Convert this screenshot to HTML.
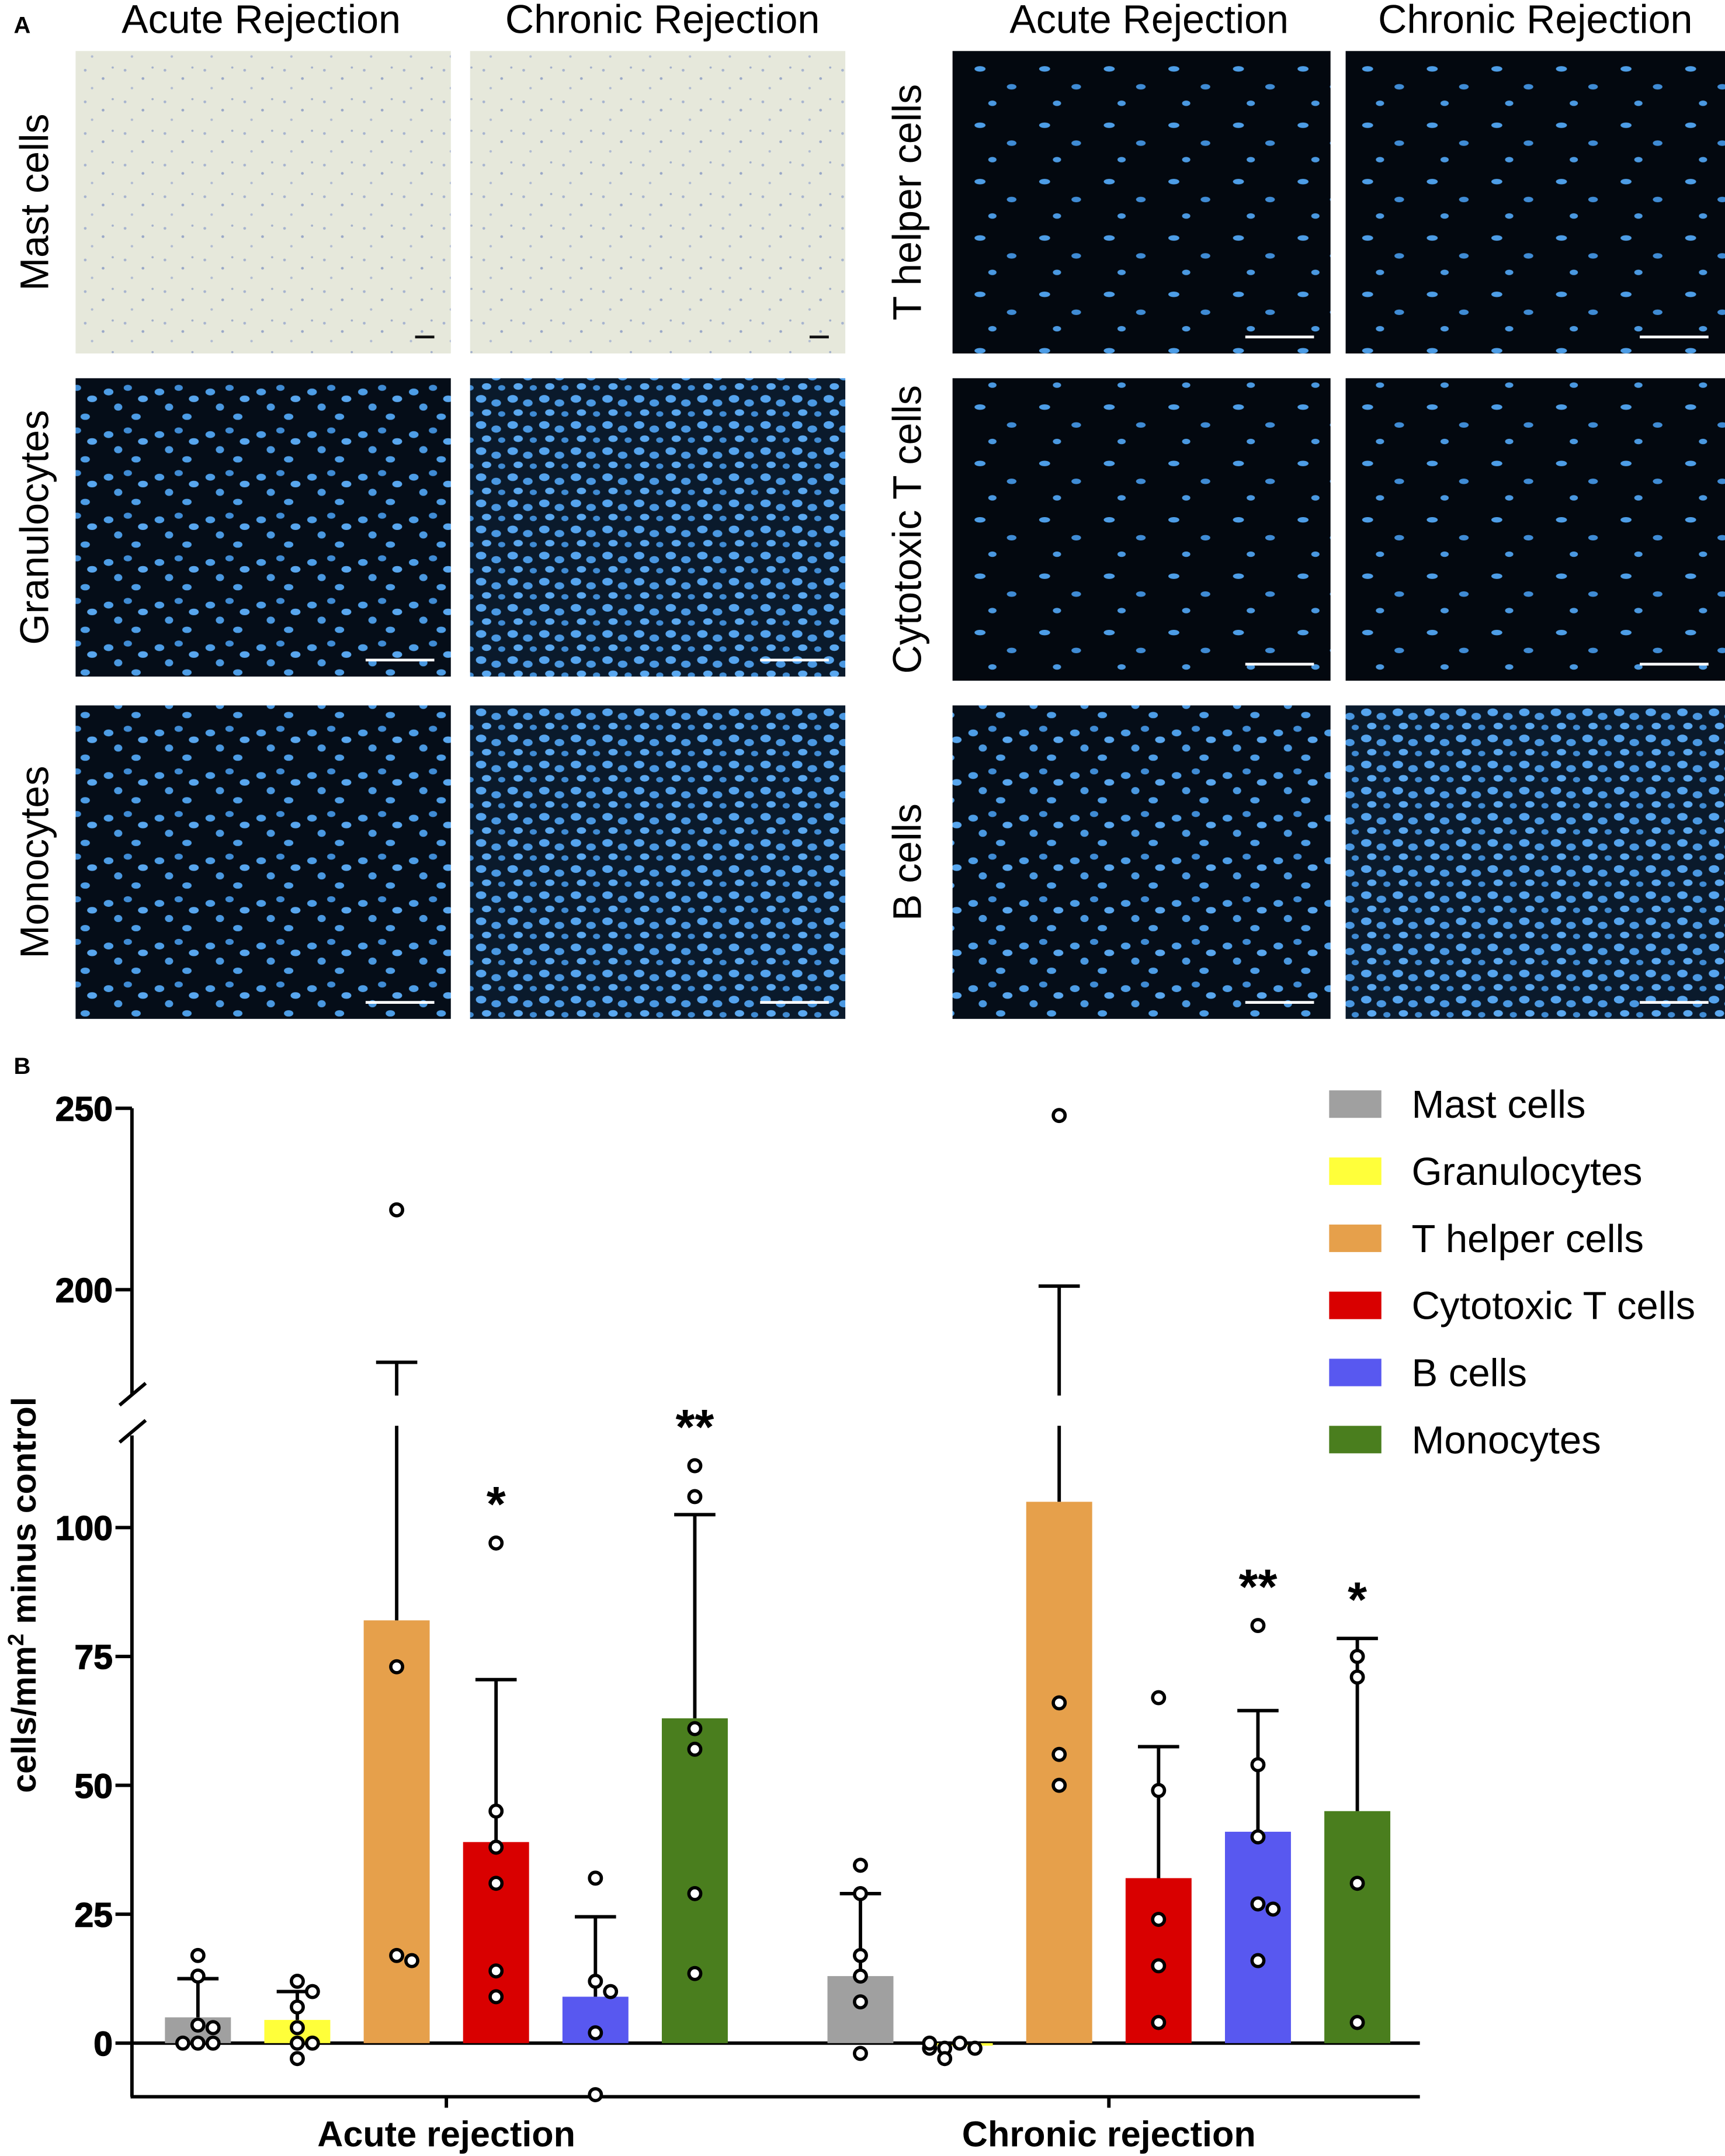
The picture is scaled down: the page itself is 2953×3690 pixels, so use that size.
<!DOCTYPE html>
<html><head><meta charset="utf-8"><style>html,body{margin:0;padding:0;background:#fff}svg{display:block}</style></head>
<body>
<svg id="fig" xmlns="http://www.w3.org/2000/svg" width="2953" height="3690" viewBox="0 0 1255 1568" font-family="Liberation Sans, Arial, sans-serif">
<defs>
<pattern id="nuc" width="37" height="31" patternUnits="userSpaceOnUse">
<rect width="37" height="31" fill="#050d18"/>
<ellipse cx="5" cy="6" rx="3.5" ry="2.5" fill="#4d9de6"/><ellipse cx="19" cy="3" rx="3" ry="2.2" fill="#3f8bd4"/>
<ellipse cx="30" cy="11" rx="3.6" ry="2.4" fill="#58a6ee"/><ellipse cx="12" cy="17" rx="3" ry="2.6" fill="#4a98e0"/>
<ellipse cx="25" cy="24" rx="3.4" ry="2.3" fill="#4d9de6"/>
</pattern>
<pattern id="sparse" width="47" height="41" patternUnits="userSpaceOnUse">
<rect width="47" height="41" fill="#03080f"/>
<ellipse cx="8" cy="9" rx="4" ry="2" fill="#4d9de6"/><ellipse cx="31" cy="22" rx="3.5" ry="2" fill="#3f8bd4"/>
<ellipse cx="17" cy="34" rx="3" ry="2" fill="#4a98e0"/>
</pattern>
<pattern id="nucd" width="23" height="19" patternUnits="userSpaceOnUse">
<rect width="23" height="19" fill="#0a1a2c"/>
<ellipse cx="5" cy="5" rx="3.8" ry="2.8" fill="#55a4ee"/><ellipse cx="16" cy="8" rx="3.5" ry="2.6" fill="#4a98e2"/>
<ellipse cx="9" cy="15" rx="3.4" ry="2.4" fill="#5aa8f0"/><ellipse cx="20" cy="16" rx="2.6" ry="2" fill="#3f8bd4"/>
</pattern>
<pattern id="mast" width="29" height="23" patternUnits="userSpaceOnUse">
<rect width="29" height="23" fill="#e6e8db"/>
<circle cx="4" cy="5" r="1" fill="#a7b4cf"/><circle cx="17" cy="11" r="1" fill="#9aa8c8"/>
<circle cx="9" cy="18" r="0.9" fill="#b0bbd2"/><circle cx="24" cy="3" r="0.8" fill="#a2afcb"/>
</pattern>
</defs>
<g id="panelA"></g>
<g id="panelB"></g>
</svg>
<script>
const NS='http://www.w3.org/2000/svg';
function mk(parent,tag,attrs,text){const e=document.createElementNS(NS,tag);for(const k in attrs)e.setAttribute(k,attrs[k]);if(text!==undefined)e.textContent=text;parent.appendChild(e);return e;}

// ---------- Panel A (micrographs) ----------
const A=document.getElementById('panelA');
const tA=mk(A,'text',{x:10,y:24,'font-size':17,'font-weight':'bold'},'A');


const colHeaders=[['Acute Rejection',190],['Chronic Rejection',482],['Acute Rejection',836],['Chronic Rejection',1117]];
colHeaders.forEach(h=>{const t=mk(A,'text',{x:h[1],y:24,'font-size':29,'text-anchor':'middle'},h[0]);

});
const rowsL=[['Mast cells',37,257],['Granulocytes',275,492],['Monocytes',513,741]];
const rowsR=[['T helper cells',37,257],['Cytotoxic T cells',275,495],['B cells',513,741]];
const colsL=[[55,328],[342,615]],colsR=[[693,968],[979,1255]];
function panels(rows,cols,lx,right){
 rows.forEach((r,ri)=>{
  const lab=mk(A,'text',{x:0,y:0,'font-size':29,'text-anchor':'middle',transform:`translate(${lx},${(r[1]+r[2])/2}) rotate(-90)`},r[0]);
  
  
  cols.forEach((c,ci)=>{
   let fill;
   if(r[0]==='Mast cells')fill='url(#mast)';
   else if(right&&ri<2)fill='url(#sparse)';
   else if(ci===1&&ri>0)fill='url(#nucd)';
   else fill='url(#nuc)';
   const im=mk(A,'rect',{x:c[0],y:r[1],width:c[1]-c[0],height:r[2]-r[1],fill:fill});
   
   
   const sbCol=(r[0]==='Mast cells')?'#111':'#fff';
   const sbLen=(r[0]==='Mast cells')?14:50;
   const sb=mk(A,'line',{x1:c[1]-12-sbLen,x2:c[1]-12,y1:r[2]-12,y2:r[2]-12,stroke:sbCol,'stroke-width':2});
   
   
  });
 });
}
panels(rowsL,colsL,35,false);panels(rowsR,colsR,670,true);

// ---------- Panel B (bar chart) ----------
const categories=['Mast cells','Granulocytes','T helper cells','Cytotoxic T cells','B cells','Monocytes'];
const groups=['Acute rejection','Chronic rejection'];
const colors=['#a0a0a0','#ffff3a','#e6a04b','#d90000','#5858f0','#4a7e1e'];
const acuteMeans=[5,4.5,82,39,9,63];
const chronicMeans=[13,-0.5,105,32,41,45];
const acuteErr=[12.5,10,180,70.5,24.5,102.5];
const chronicErr=[29,0,201,57.5,64.5,78.5];
const acutePts=[[17,13,3.5,3,0,0,0],[12,10,7,3,0,0,-3],[222,73,17,16],[97,45,38,31,14,9],[32,12,10,2,-10],[112,106,61,57,29,13.5]];
const chronicPts=[[34.5,29,17,13,8,-2],[0,-1,-1,-3,-1,0],[248,66,56,50],[67,49,24,15,4],[81,54,40,27,26,16],[75,71,31,4]];
const stars=[['','','','*','','**'],['','','','','**','*']];
const yTicks=[0,25,50,75,100,200,250];

const B=document.getElementById('panelB');
const Y0=1486,LOWK=3.75,UPY=938,UPK=2.64;
function y(v){return v<=120?Y0-v*LOWK:UPY-(v-200)*UPK;}
const BREAK_TOP=1015,BREAK_BOT=1040;
const groupStart=[144,626],step=72.3,barW=48;
function xc(g,i){return groupStart[g]+i*step;}

const bl=mk(B,'text',{x:10,y:781,'font-size':17,'font-weight':'bold'},'B');



const ax=mk(B,'g',{stroke:'#000','stroke-width':2.5,fill:'none'});


mk(ax,'line',{x1:96,x2:96,y1:y(250),y2:BREAK_TOP});
mk(ax,'line',{x1:96,x2:96,y1:BREAK_BOT+4,y2:1525});
mk(ax,'line',{x1:87,x2:106,y1:BREAK_TOP+7,y2:BREAK_TOP-9});
mk(ax,'line',{x1:87,x2:106,y1:BREAK_BOT+9,y2:BREAK_BOT-7});
yTicks.forEach(t=>{
 mk(ax,'line',{x1:84,x2:96,y1:y(t),y2:y(t)});
 const tl=mk(B,'text',{x:82,y:y(t)+9,'font-size':25,'font-weight':'bold','text-anchor':'end',stroke:'#000','stroke-width':0.6},String(t));
 
 
});
const xa=mk(B,'g',{stroke:'#000','stroke-width':2.5});


mk(xa,'line',{x1:95,x2:1033,y1:1525,y2:1525});
mk(xa,'line',{x1:96,x2:1033,y1:Y0,y2:Y0});
groups.forEach((g,gi)=>{
 const cx=(xc(gi,0)+xc(gi,5))/2;
 mk(xa,'line',{x1:cx,x2:cx,y1:1525,y2:1533});
 const gl=mk(B,'text',{x:cx,y:1561,'font-size':26,'font-weight':'bold','text-anchor':'middle'},g);
 
 
});
const yt=mk(B,'text',{x:0,y:0,'font-size':25,'font-weight':'bold','text-anchor':'middle',transform:'translate(26,1160) rotate(-90)'});


yt.innerHTML='cells/mm<tspan dy="-9" font-size="16">2</tspan><tspan dy="9"> minus control</tspan>';

function vline(g,x,v1,v2){
 let a=y(v1),b=y(v2);const top=Math.min(a,b),bot=Math.max(a,b);
 if(top<BREAK_TOP&&bot>BREAK_BOT){mk(g,'line',{x1:x,x2:x,y1:top,y2:BREAK_TOP});mk(g,'line',{x1:x,x2:x,y1:BREAK_BOT-3,y2:bot});}
 else mk(g,'line',{x1:x,x2:x,y1:top,y2:bot});
}
const means=[acuteMeans,chronicMeans],errs=[acuteErr,chronicErr],pts=[acutePts,chronicPts];
groups.forEach((gname,gi)=>{
 categories.forEach((c,i)=>{
  const x=xc(gi,i),m=means[gi][i];
  const bar=mk(B,'rect',{x:x-barW/2,y:Math.min(y(m),Y0),width:barW,height:Math.abs(Y0-y(m)),fill:colors[i]});
  
  
  const eg=mk(B,'g',{stroke:'#000','stroke-width':2.5});
  
  
  const e=errs[gi][i];
  if(e>m){vline(eg,x,m,e);mk(eg,'line',{x1:x-15,x2:x+15,y1:y(e),y2:y(e)});}
  const placed=[];
  pts[gi][i].forEach(v=>{
   const py=y(v);let n=placed.filter(p=>Math.abs(p-py)<9).length;placed.push(py);
   const off=n===0?0:(n%2?1:-1)*Math.ceil(n/2)*11;
   const p=mk(B,'circle',{cx:x+off,cy:py,r:4.3,fill:'#fff',stroke:'#000','stroke-width':2.4});
   
   
  });
  const s=stars[gi][i];
  if(s){const mx=Math.max(e,...pts[gi][i]);
   const st=mk(B,'text',{x:x,y:y(mx)-16,'font-size':36,'font-weight':'bold','text-anchor':'middle'},s);
   
   }
 });
});
const lg=mk(B,'g',{});


categories.forEach((c,i)=>{
 const yy=803+i*48.8;
 const sw=mk(lg,'rect',{x:967,y:yy-10,width:38,height:20,fill:colors[i]});
 
 
 const t=mk(lg,'text',{x:1027,y:yy+10,'font-size':28.5},c);
 
 
});
</script>
</body></html>
